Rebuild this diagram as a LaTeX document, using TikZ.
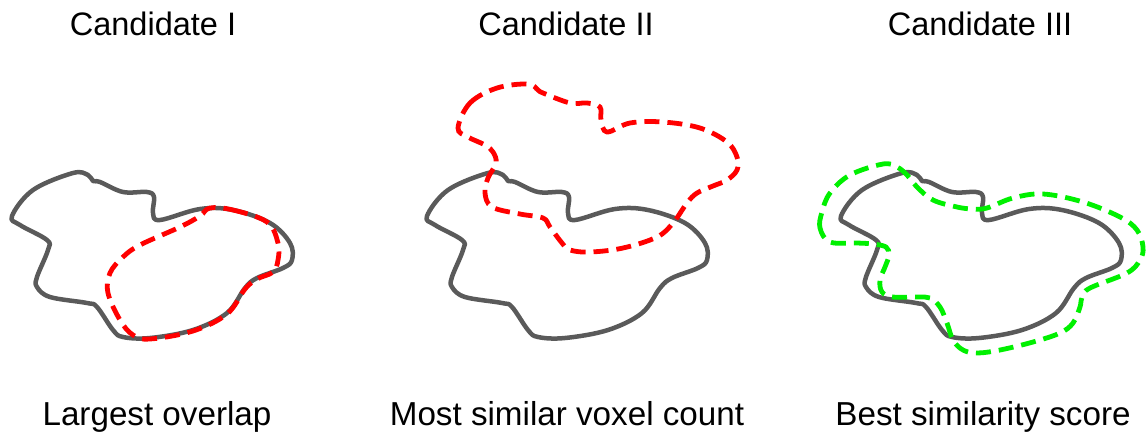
\documentclass[tikz,border=0pt]{standalone}
\usepackage{fontspec}
\setmainfont{Liberation Sans}
\definecolor{blobgray}{HTML}{5A5A5A}
\definecolor{candred}{HTML}{FF0000}
\definecolor{candgreen}{HTML}{00F000}
\tikzset{
  outline/.style={draw=blobgray, line width=4.5pt, line join=round},
  candline/.style={line width=4.8pt, dash pattern=on 15pt off 8pt},
  lbl/.style={font=\fontsize{32.5}{38}\selectfont, inner sep=0pt, anchor=base},
  captxt/.style={font=\fontsize{33.2}{38}\selectfont, inner sep=0pt, anchor=base}
}
\def\blobpts{(12,216) (33,190) (73,173) (88,175) (93,181) (100,182) (123,192) (147,192) (154,197) (153,213) (160,220) (200,209) (233,210) (270,223) (290,243) (292,260) (283,268) (257,278) (245,288) (227,313) (193,330) (150,338) (123,337) (113,330) (97,307) (87,303) (50,297) (37,287) (37,277) (48,250) (47,240) (20,225)}
\begin{document}
\begin{tikzpicture}[x=1pt, y=-1pt]
\useasboundingbox (0,0) rectangle (1146,432);
% titles
\node[lbl] (t1) at (153,35) {Candidate I};
\node[lbl] (t2) at (566,35) {Candidate II};
\node[lbl] (t3) at (980,35) {Candidate III};
% captions
\node[captxt] (c1) at (157,425) {Largest overlap};
\node[captxt] (c2) at (567,425) {Most similar voxel count};
\node[captxt] (c3) at (983,425) {Best similarity score};
% gray blobs
\draw[outline] plot[smooth cycle, tension=0.6] coordinates {\blobpts};
\begin{scope}[shift={(415,0)}]
\draw[outline] plot[smooth cycle, tension=0.6] coordinates {\blobpts};
\end{scope}
\begin{scope}[shift={(829,0)}]
\draw[outline] plot[smooth cycle, tension=0.6] coordinates {\blobpts};
\end{scope}
% candidate I
\draw[candline, candred] plot[smooth cycle, tension=0.6] coordinates {(210,208) (233,210) (267,222) (278,243) (278,260) (273,272) (257,279) (245,289) (227,314) (193,331) (150,339) (133,335) (120,320) (108,293) (110,273) (123,257) (140,245) (180,227) (200,216)};
% candidate II
\draw[candline, candred] plot[smooth cycle, tension=0.6] coordinates {(458,128) (470,103) (497,88) (528,84) (538,90) (543,93) (570,103) (587,103) (600,107) (601,120) (607,132) (630,123) (663,122) (700,128) (727,142) (737,157) (737,170) (727,180) (713,186) (697,193) (687,203) (673,223) (657,237) (623,248) (590,252) (570,250) (562,243) (550,227) (543,218) (520,214) (492,207) (485,193) (488,178) (496,163) (493,152) (485,145) (468,137)};
% candidate III
\draw[candline, candgreen] plot[smooth cycle, tension=0.6] coordinates {(830,242) (820,228) (822,212) (830,193) (850,175) (883,164) (897,167) (907,175) (917,187) (933,200) (957,207) (973,209) (987,208) (1013,198) (1043,194) (1083,202) (1120,217) (1137,230) (1143,247) (1140,260) (1127,273) (1090,288) (1082,297) (1080,307) (1073,323) (1060,333) (1033,342) (1000,350) (977,353) (963,350) (953,340) (947,323) (940,307) (930,298) (917,297) (893,297) (882,292) (880,280) (885,267) (889,255) (886,247) (873,244) (857,243)};
\end{tikzpicture}
\end{document}
